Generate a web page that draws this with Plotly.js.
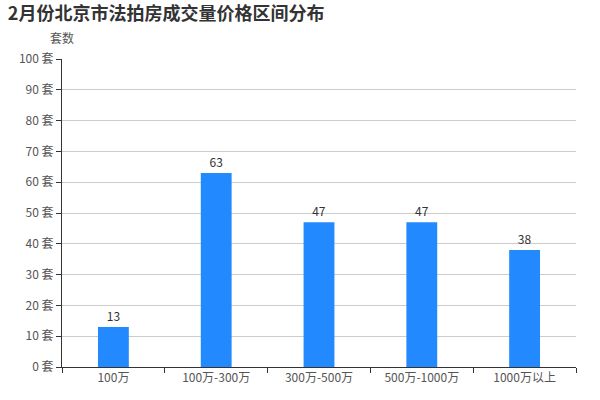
<!DOCTYPE html>
<html><head><meta charset="utf-8">
<script src="https://cdn.plot.ly/plotly-3.0.1.min.js"></script>
<style>html,body{margin:0;padding:0;background:#fff}#chart{width:600px;height:400px}</style>
</head><body><div id="chart"></div>
<script>
const categories = ["100万", "100万-300万", "300万-500万", "500万-1000万", "1000万以上"];
const counts = [13, 63, 47, 47, 38];
const yTicks = [0, 10, 20, 30, 40, 50, 60, 70, 80, 90, 100];

const font = 'Microsoft YaHei, "Noto Sans CJK SC", sans-serif';
Plotly.newPlot('chart', [{
  type: 'bar', x: categories, y: counts,
  text: counts.map(String), textposition: 'outside', cliponaxis: false,
  textfont: {size: 12, color: '#333', family: font},
  marker: {color: '#2389ff'}, width: 0.3, hoverinfo: 'none'
}], {
  width: 600, height: 400,
  margin: {l: 62, r: 24, t: 59, b: 33},
  paper_bgcolor: '#fff', plot_bgcolor: '#fff',
  font: {family: font, size: 12, color: '#555'},
  title: {text: '<b>2月份北京市法拍房成交量价格区间分布</b>', x: 0.013, xanchor: 'left', y: 0.965, yanchor: 'middle', font: {size: 18, color: '#333', family: font}},
  showlegend: false,
  xaxis: {type: 'category', tickson: 'boundaries', ticks: 'outside', ticklen: 5, tickcolor: '#333',
    showline: true, linecolor: '#333', linewidth: 1, showgrid: false, fixedrange: true,
    tickfont: {size: 12, color: '#555', family: font}},
  yaxis: {range: [0, 100], tickvals: yTicks, ticktext: yTicks.map(v => v + ' 套'), ticks: 'outside', ticklen: 5, tickcolor: '#333',
    showline: true, linecolor: '#333', linewidth: 1, showgrid: true, gridcolor: '#ccc', zeroline: false,
    tickfont: {size: 12, color: '#555', family: font}, fixedrange: true},
  annotations: [{text: '套数', xref: 'paper', yref: 'paper', x: 0.0, y: 1.07, xanchor: 'center', yanchor: 'middle', showarrow: false, font: {size: 12, color: '#555', family: font}}]
}, {displayModeBar: false, staticPlot: true});
</script></body></html>
